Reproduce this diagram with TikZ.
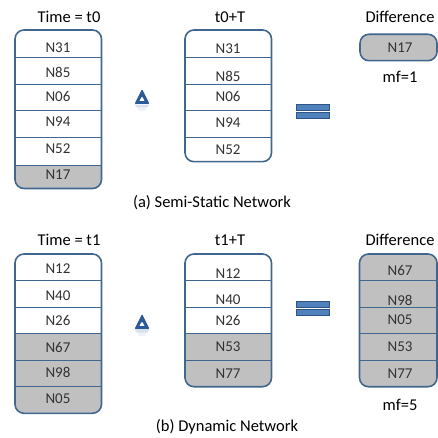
\documentclass[tikz,border=0pt]{standalone}
\usepackage{fontspec}
\setmainfont{Carlito}
\definecolor{boxblue}{HTML}{41678F}
\definecolor{cellgray}{HTML}{C0C0C0}
\definecolor{eqblue}{HTML}{4F81BD}
\definecolor{eqedge}{HTML}{2F5587}
\definecolor{deltablue}{HTML}{2A5A98}

% rounded list box: left, top, right, bottom, top of the grey part, row separators
\newcommand\drawlist[6]{%
  \begin{scope}
    \clip[rounded corners=9pt] (#1,#2) rectangle (#3,#4);
    \fill[white] (#1,#2) rectangle (#3,#4);
    \fill[cellgray] (#1,#5) rectangle (#3,#4);
    \foreach \yy in {#6} \draw[sep] (#1,\yy) -- (#3,\yy);
  \end{scope}
  \draw[frame] (#1,#2) rectangle (#3,#4);}

% bold hollow delta sign centred at (#1,#2), with a faint mirror image below it
\newcommand\deltasign[2]{%
  \fill[deltablue, even odd rule, rounded corners=1pt]
    (#1,#2-8) -- (#1+7.5,#2+7) -- (#1-7.5,#2+7) -- cycle
    (#1,#2-0.8) -- (#1+3,#2+4.2) -- (#1-3,#2+4.2) -- cycle;
  \fill[deltablue, opacity=0.18]
    (#1-7.5,#2+7.6) -- (#1+7.5,#2+7.6) -- (#1+5,#2+10.5) -- (#1-5,#2+10.5) -- cycle;
  \fill[deltablue, opacity=0.08]
    (#1-5,#2+10.5) -- (#1+5,#2+10.5) -- (#1+3,#2+14) -- (#1-3,#2+14) -- cycle;}

\begin{document}
\begin{tikzpicture}[x=1pt,y=-1pt,
  frame/.style={draw=boxblue, line width=1.6pt, rounded corners=9pt},
  sep/.style={draw=boxblue, line width=0.9pt},
  cell/.style={font=\fontsize{15}{17}\selectfont, text=black!80, inner sep=0pt},
  caption/.style={font=\fontsize{16.5}{19}\selectfont, text=black, inner sep=0pt},
  eqbar/.style={fill=eqblue, draw=eqedge, line width=0.6pt}]
\useasboundingbox (0,0) rectangle (438,438);

% ---------- (a) semi-static network ----------
\node[caption] (ha1) at (69,17) {Time = t0};
\node[caption] (ha2) at (230,17) {t0+T};
\node[caption] (ha3) at (400,17) {Difference};

\drawlist{15}{30}{101.5}{188.5}{165}{57.3,84.3,110,137.3,165}
\node[cell] (a11) at (58,47.3) {N31};
\node[cell] (a12) at (58,72.7) {N85};
\node[cell] (a13) at (58,96) {N06};
\node[cell] (a14) at (58,122) {N94};
\node[cell] (a15) at (58,149) {N52};
\node[cell] (a16) at (58,175) {N17};

\drawlist{185}{30}{271.5}{161.7}{161.7}{57.3,84.3,110,137.3}
\node[cell] (a21) at (228,49) {N31};
\node[cell] (a22) at (228,76.7) {N85};
\node[cell] (a23) at (228,96) {N06};
\node[cell] (a24) at (228,122.7) {N94};
\node[cell] (a25) at (228,150) {N52};

\fill[cellgray, rounded corners=9pt] (360,34.3) rectangle (437,60.7);
\draw[frame] (360,34.3) rectangle (437,60.7);
\node[cell] (a31) at (400,48) {N17};
\node[caption] (mfa) at (400,77) {mf=1};

\deltasign{142}{97}
\draw[eqbar] (296,104.3) rectangle (329,110.7);
\draw[eqbar] (296,112.3) rectangle (329,118.3);

\node[caption] (capa) at (212,203) {(a) Semi-Static Network};

% ---------- (b) dynamic network ----------
\node[caption] (hb1) at (69,240) {Time = t1};
\node[caption] (hb2) at (230,240) {t1+T};
\node[caption] (hb3) at (400,240) {Difference};

\drawlist{15}{254}{101.5}{413.3}{333}{280.7,307.3,333,360,386.7}
\node[cell] (b11) at (58,269) {N12};
\node[cell] (b12) at (58,295.7) {N40};
\node[cell] (b13) at (58,320.7) {N26};
\node[cell] (b14) at (58,347.3) {N67};
\node[cell] (b15) at (58,372.3) {N98};
\node[cell] (b16) at (58,398.3) {N05};

\drawlist{185}{254}{271.5}{386.7}{333.3}{280.7,307.3,333.3,360}
\node[cell] (b21) at (228,273.3) {N12};
\node[cell] (b22) at (228,300) {N40};
\node[cell] (b23) at (228,320) {N26};
\node[cell] (b24) at (228,346.7) {N53};
\node[cell] (b25) at (228,373.3) {N77};

\drawlist{359.5}{254}{437}{386.7}{254}{280.7,307.3,333.3,360}
\node[cell] (b31) at (400,270.7) {N67};
\node[cell] (b32) at (400,300) {N98};
\node[cell] (b33) at (400,320) {N05};
\node[cell] (b34) at (400,346.7) {N53};
\node[cell] (b35) at (400,373.3) {N77};
\node[caption] (mfb) at (400,405) {mf=5};

\deltasign{142}{322}
\draw[eqbar] (296,301) rectangle (329,307.3);
\draw[eqbar] (296,309) rectangle (329,315);

\node[caption] (capb) at (227,427) {(b) Dynamic Network};
\end{tikzpicture}
\end{document}
